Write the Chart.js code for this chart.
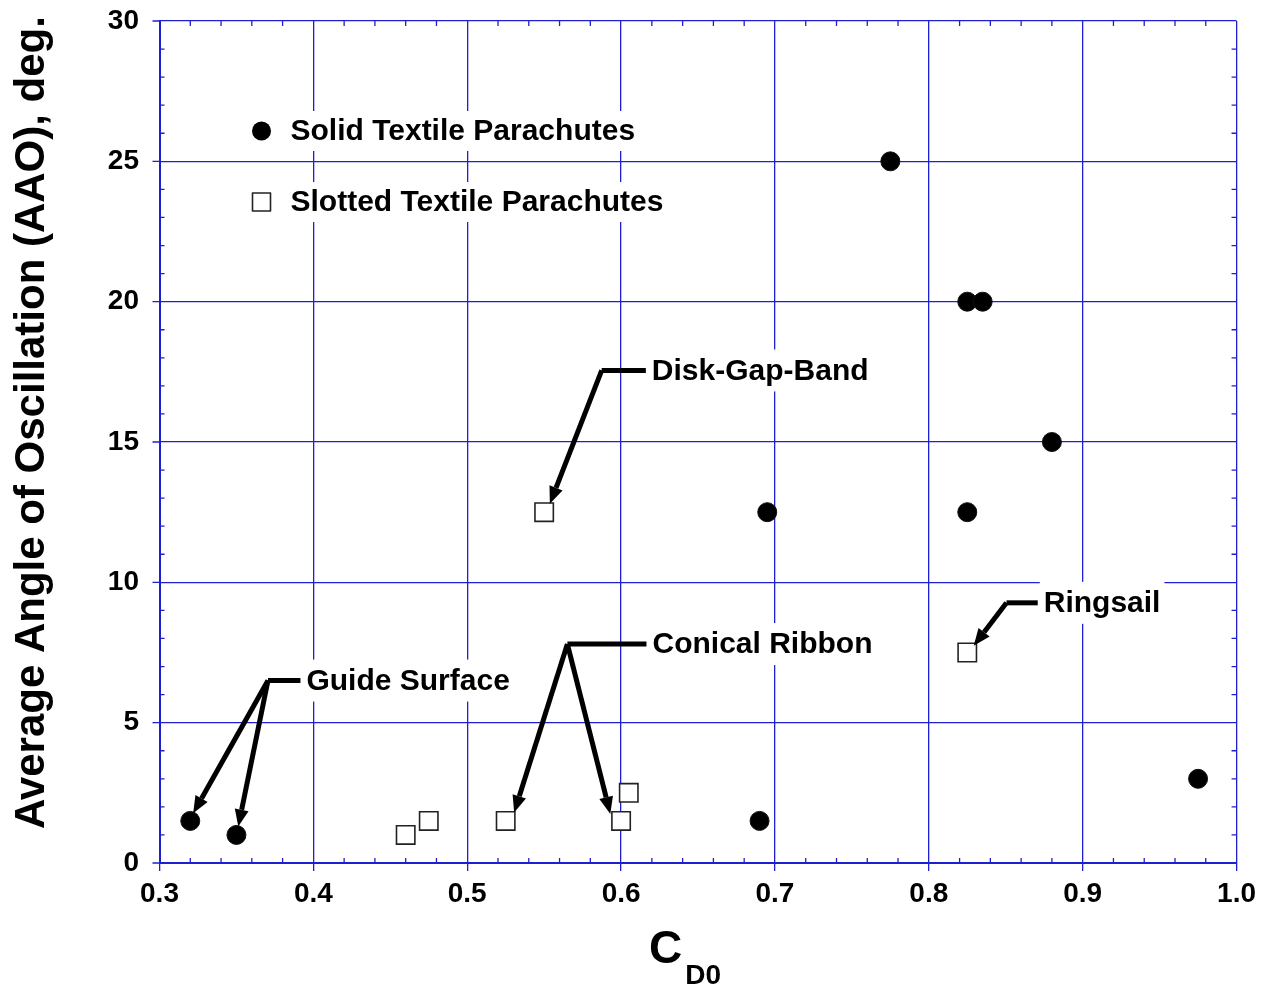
<!DOCTYPE html>
<html>
<head>
<meta charset="utf-8">
<script src="https://cdn.jsdelivr.net/npm/chart.js@4/dist/chart.umd.min.js"></script>
<style>
    body { margin: 0; background: #fff; }
    #wrap { width: 1262px; height: 987px; }
</style>
</head>
<body>
<div id="wrap"><canvas id="myChart"></canvas></div>
<script>
// values
const solidCd = [0.32, 0.35, 0.69, 0.695, 0.775, 0.825, 0.835, 0.88, 0.825, 0.975];
const solidAao = [1.5, 1.0, 1.5, 12.5, 25, 20, 20, 15, 12.5, 3];

const slottedCd = [0.46, 0.475, 0.525, 0.55, 0.60, 0.605, 0.825];
const slottedAao = [1.0, 1.5, 1.5, 12.5, 1.5, 2.5, 7.5];

const xTicks = [0.3, 0.4, 0.5, 0.6, 0.7, 0.8, 0.9, 1.0];
const yTicks = [0, 5, 10, 15, 20, 25, 30];

const seriesNames = ["Solid Textile Parachutes", "Slotted Textile Parachutes"];

// callouts, in data units: label start, elbow, arrow tips
const notes = [
    { text: "Disk-Gap-Band", x: 0.620, y: 17.55, elbow: [0.5874, 17.55], tips: [[0.5537, 12.8]] },
    { text: "Guide Surface", x: 0.3955, y: 6.5, elbow: [0.3705, 6.5], tips: [[0.3219, 1.77], [0.3512, 1.3]] },
    { text: "Conical Ribbon", x: 0.6204, y: 7.8, elbow: [0.5651, 7.8], tips: [[0.5305, 1.8], [0.5930, 1.75]] },
    { text: "Ringsail", x: 0.8747, y: 9.27, elbow: [0.8505, 9.27], tips: [[0.8292, 7.74]] }
];

const FONT = 'Arial, "Liberation Sans", sans-serif';
const gridBlue = '#1f1fd2';

function toPoints(xs, ys) {
    let pts = [];
    for (let i = 0; i < xs.length; i++) {
        pts.push({ x: xs[i], y: ys[i] });
    }
    return pts;
}

function arrow(ctx, x0, y0, x1, y1) {
    const ang = Math.atan2(y1 - y0, x1 - x0);
    const len = 17, half = 7;
    const bx = x1 - len * Math.cos(ang), by = y1 - len * Math.sin(ang);
    ctx.beginPath();
    ctx.moveTo(x0, y0);
    ctx.lineTo(bx, by);
    ctx.stroke();
    ctx.beginPath();
    ctx.moveTo(x1, y1);
    ctx.lineTo(bx + half * Math.sin(ang), by - half * Math.cos(ang));
    ctx.lineTo(bx - half * Math.sin(ang), by + half * Math.cos(ang));
    ctx.closePath();
    ctx.fill();
}

const minorTicks = {
    id: 'minorTicks',
    beforeDatasetsDraw(chart) {
        const ctx = chart.ctx;
        const a = chart.chartArea;
        const xs = chart.scales.x, ys = chart.scales.y;
        ctx.save();
        ctx.strokeStyle = gridBlue;
        ctx.lineWidth = 1.3;
        ctx.beginPath();
        for (let i = 0; i <= 35; i++) {
            if (i % 5 === 0) continue;
            const px = xs.getPixelForValue(0.3 + i * 0.02);
            ctx.moveTo(px, a.bottom); ctx.lineTo(px, a.bottom - 5);
            ctx.moveTo(px, a.top); ctx.lineTo(px, a.top + 5);
        }
        for (let i = 0; i <= 30; i++) {
            if (i % 5 === 0) continue;
            const py = ys.getPixelForValue(i);
            ctx.moveTo(a.left, py); ctx.lineTo(a.left + 5, py);
            ctx.moveTo(a.right, py); ctx.lineTo(a.right - 5, py);
        }
        // major ticks poking out to the left
        for (let v of yTicks) {
            const py = ys.getPixelForValue(v);
            ctx.moveTo(a.left - 7, py); ctx.lineTo(a.left, py);
        }
        ctx.stroke();
        ctx.restore();
    }
};

const decorations = {
    id: 'decorations',
    afterDatasetsDraw(chart) {
        const ctx = chart.ctx;
        const a = chart.chartArea;
        const xs = chart.scales.x, ys = chart.scales.y;
        ctx.save();

        // callouts
        ctx.font = 'bold 30px ' + FONT;
        ctx.textBaseline = 'middle';
        ctx.textAlign = 'left';
        for (let n of notes) {
            const tx = xs.getPixelForValue(n.x), ty = ys.getPixelForValue(n.y);
            const w = ctx.measureText(n.text).width;
            ctx.fillStyle = '#fff';
            ctx.fillRect(tx - 4, ty - 21, w + 8, 42);
            ctx.fillStyle = '#000';
            ctx.fillText(n.text, tx, ty + 1);

            const ex = xs.getPixelForValue(n.elbow[0]), ey = ys.getPixelForValue(n.elbow[1]);
            ctx.strokeStyle = '#000';
            ctx.lineWidth = 5;
            ctx.lineCap = 'butt';
            ctx.lineJoin = 'round';
            ctx.beginPath();
            ctx.moveTo(tx - 6, ey);
            ctx.lineTo(ex, ey);
            ctx.stroke();
            for (let t of n.tips) {
                arrow(ctx, ex, ey, xs.getPixelForValue(t[0]), ys.getPixelForValue(t[1]));
            }
        }

        // legend
        const lx = a.left + 102, ly = [a.top + 110, a.top + 181];
        ctx.font = 'bold 30px ' + FONT;
        for (let k = 0; k < 2; k++) {
            const w = ctx.measureText(seriesNames[k]).width;
            ctx.fillStyle = '#fff';
            ctx.fillRect(lx + 26, ly[k] - 20, w + 8, 40);
            ctx.fillStyle = '#000';
            ctx.fillText(seriesNames[k], lx + 29, ly[k] + 1);
        }
        ctx.beginPath();
        ctx.arc(lx, ly[0], 9.5, 0, Math.PI * 2);
        ctx.fillStyle = '#000';
        ctx.fill();
        ctx.fillStyle = '#fff';
        ctx.strokeStyle = '#222';
        ctx.lineWidth = 1.6;
        ctx.fillRect(lx - 9, ly[1] - 9, 18, 18);
        ctx.strokeRect(lx - 9, ly[1] - 9, 18, 18);
        ctx.restore();
    },
    afterDraw(chart) {
        const ctx = chart.ctx;
        ctx.save();
        ctx.fillStyle = '#000';
        ctx.textBaseline = 'alphabetic';

        ctx.translate(44, 422.5);
        ctx.rotate(-Math.PI / 2);
        ctx.textAlign = 'center';
        ctx.font = 'bold 42px ' + FONT;
        ctx.fillText("Average Angle of Oscillation (AAO), deg.", 0, 0);
        ctx.setTransform(1, 0, 0, 1, 0, 0);

        ctx.textAlign = 'left';
        ctx.font = 'bold 46px ' + FONT;
        ctx.fillText("C", 649, 963);
        const cw = ctx.measureText("C").width;
        ctx.font = 'bold 28px ' + FONT;
        ctx.fillText("D0", 649 + cw + 3, 984);
        ctx.restore();
    }
};

const ctx = document.getElementById('myChart');

const myChart = new Chart(ctx, {
    type: 'scatter',
    data: {
        datasets: [{
            label: seriesNames[0],
            data: toPoints(solidCd, solidAao),
            pointStyle: 'circle',
            pointRadius: 9.5,
            backgroundColor: '#000',
            borderColor: '#111',
            borderWidth: 1
        }, {
            label: seriesNames[1],
            data: toPoints(slottedCd, slottedAao),
            pointStyle: 'rect',
            pointRadius: 13,
            backgroundColor: '#fff',
            borderColor: '#222',
            borderWidth: 1.6
        }]
    },
    options: {
        responsive: true,
        maintainAspectRatio: false,
        animation: false,
        events: [],
        layout: { padding: { top: 21, right: 25, left: 0, bottom: 0 } },
        plugins: {
            legend: { display: false },
            tooltip: { enabled: false }
        },
        scales: {
            x: {
                type: 'linear',
                min: 0.3,
                max: 1.0,
                afterBuildTicks: (s) => { s.ticks = xTicks.map(v => ({ value: v })); },
                afterFit: (s) => { s.height = 124; },
                ticks: {
                    color: '#000',
                    font: { family: FONT, size: 28, weight: 'bold' },
                    padding: 6,
                    maxRotation: 0,
                    callback: (v) => Number(v).toFixed(1)
                },
                grid: { color: gridBlue, lineWidth: 1.3, tickLength: 8 },
                border: { display: true, color: gridBlue, width: 2 }
            },
            y: {
                type: 'linear',
                min: 0,
                max: 30,
                afterBuildTicks: (s) => { s.ticks = yTicks.map(v => ({ value: v })); },
                afterFit: (s) => { s.width = 159.5; },
                ticks: {
                    color: '#000',
                    font: { family: FONT, size: 28, weight: 'bold' },
                    padding: 0,
                    callback: (v) => String(v)
                },
                grid: { color: gridBlue, lineWidth: 1.3, tickLength: 20.5, tickColor: 'rgba(0,0,0,0)' },
                border: { display: true, color: gridBlue, width: 2 }
            }
        }
    },
    plugins: [minorTicks, decorations]
});
</script>
</body>
</html>
